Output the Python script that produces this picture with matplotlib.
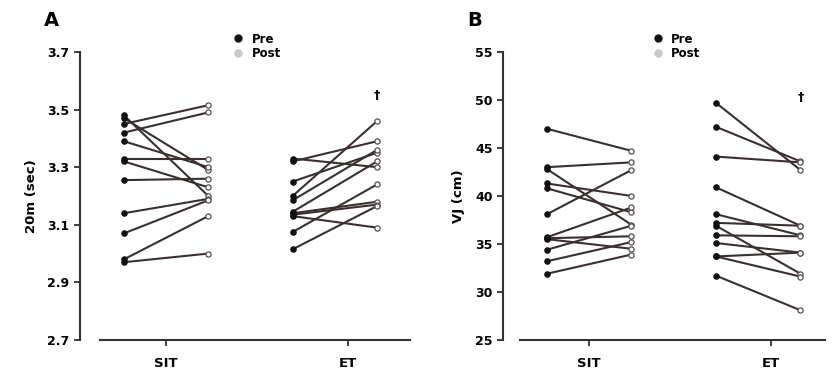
import matplotlib.pyplot as plt
from matplotlib.lines import Line2D

# 20 m sprint (sec), pre -> post, one pair per participant
sit_20m_pre = [3.48, 3.47, 3.45, 3.42, 3.39, 3.33, 3.32, 3.255, 3.14, 3.07, 2.98, 2.97]
sit_20m_post = [3.20, 3.29, 3.515, 3.49, 3.30, 3.33, 3.23, 3.26, 3.19, 3.185, 3.13, 3.00]
et_20m_pre = [3.33, 3.32, 3.25, 3.20, 3.185, 3.145, 3.14, 3.135, 3.13, 3.075, 3.015]
et_20m_post = [3.30, 3.39, 3.35, 3.46, 3.36, 3.32, 3.18, 3.17, 3.09, 3.24, 3.165]

# vertical jump (cm)
sit_vj_pre = [47.0, 43.0, 42.8, 41.3, 40.8, 38.1, 35.7, 35.6, 35.5, 34.4, 33.2, 31.9]
sit_vj_post = [44.7, 43.5, 37.0, 40.0, 38.3, 42.7, 38.8, 35.8, 34.5, 36.9, 35.2, 33.9]
et_vj_pre = [49.7, 47.2, 44.1, 40.9, 38.1, 37.2, 36.9, 35.9, 35.1, 33.7, 33.7, 31.7]
et_vj_post = [42.7, 43.6, 43.5, 36.9, 35.9, 36.9, 31.9, 35.8, 34.1, 34.1, 31.6, 28.1]

groups = ['SIT', 'ET']
a_ticks = [2.7, 2.9, 3.1, 3.3, 3.5, 3.7]
b_ticks = [25, 30, 35, 40, 45, 50, 55]

line_col = '#3a3030'
plt.rcParams['font.family'] = 'DejaVu Sans'
plt.rcParams['font.weight'] = 'bold'

fig = plt.figure(figsize=(8.33, 3.8), dpi=100)
axA = fig.add_axes([80/833, 0.1053, 330/833, 0.758])
axB = fig.add_axes([503/833, 0.1053, 322/833, 0.758])


def draw_pairs(ax, pre, post, x0):
    for a, b in zip(pre, post):
        ax.plot([x0, x0 + 1], [a, b], color=line_col, lw=1.5, zorder=2)
    ax.scatter([x0] * len(pre), pre, s=14, color='#111111', zorder=3)
    ax.scatter([x0 + 1] * len(post), post, s=14, facecolor='white',
               edgecolor='#555050', linewidth=0.9, zorder=3)


def style(ax, ticks, ylabel, xlim, xstart, dagger_y, letter):
    ax.set_ylim(ticks[0], ticks[-1])
    ax.set_xlim(*xlim)
    ax.set_yticks(ticks)
    ax.set_yticklabels([str(t) for t in ticks], fontsize=9, fontweight='bold')
    ax.set_xticks([0.5, 2.65])
    ax.set_xticklabels(groups, fontsize=9.5, fontweight='bold')
    for s in ['top', 'right']:
        ax.spines[s].set_visible(False)
    for s in ['left', 'bottom']:
        ax.spines[s].set_linewidth(1.5)
        ax.spines[s].set_color('#333333')
    ax.spines['bottom'].set_bounds(xstart, xlim[1])
    ax.tick_params(axis='both', length=4, width=1.3, color='#333333')
    ax.tick_params(axis='x', pad=8)
    ax.set_ylabel(ylabel, fontsize=9.5, fontweight='bold', labelpad=7)
    ax.text(3, dagger_y, '\u2020', ha='center', va='center', fontsize=9, fontweight='bold')
    ax.text(-0.11, 1.11, letter, transform=ax.transAxes, fontsize=14,
            fontweight='bold', ha='left', va='center')
    handles = [Line2D([], [], marker='o', ls='none', color='#111111', markersize=5),
               Line2D([], [], marker='o', ls='none', color='#c8c8c8', markersize=5)]
    ax.legend(handles, ['Pre', 'Post'], loc='center left', bbox_to_anchor=(0.43, 1.02),
              frameon=False, handletextpad=0.1, labelspacing=0.1,
              prop={'size': 8.5, 'weight': 'bold'}, borderaxespad=0)


draw_pairs(axA, sit_20m_pre, sit_20m_post, 0)
draw_pairs(axA, et_20m_pre, et_20m_post, 2)
style(axA, a_ticks, '20m (sec)', (-0.52, 3.39), -0.285, 3.55, 'A')

draw_pairs(axB, sit_vj_pre, sit_vj_post, 0)
draw_pairs(axB, et_vj_pre, et_vj_post, 2)
style(axB, b_ticks, 'VJ (cm)', (-0.52, 3.29), -0.32, 50.3, 'B')

fig.savefig('out.png', dpi=100)
